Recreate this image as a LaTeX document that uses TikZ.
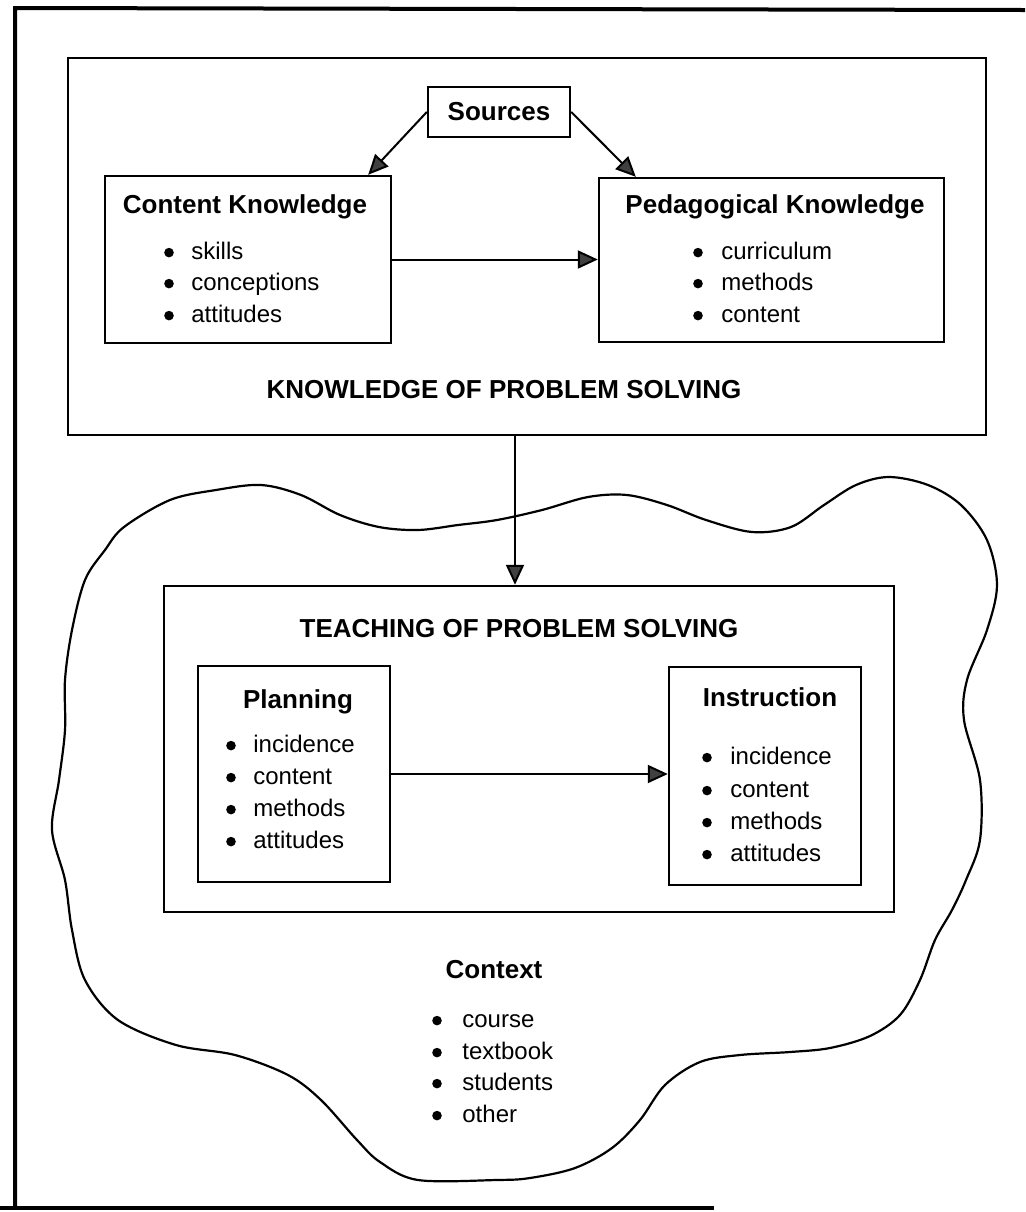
\documentclass[tikz,border=0pt]{standalone}
\usepackage{fontspec}
\setmainfont{Liberation Sans}
\usetikzlibrary{arrows.meta}
\begin{document}
\begin{tikzpicture}[x=0.5pt,y=-0.5pt,
  box/.style={draw, line width=1.2pt, inner sep=0pt},
  ttl/.style={font=\fontsize{13pt}{15pt}\selectfont\bfseries, anchor=base, inner sep=0pt},
  itm/.style={font=\fontsize{12pt}{14pt}\selectfont, anchor=base west, inner sep=0pt},
  conn/.style={line width=1pt, -{Triangle[length=10pt,width=9pt,fill=black!75]}},
  frame/.style={line width=2pt},
  cloudline/.style={line width=1.1pt},
  bul/.style={radius=2.4pt}]
\useasboundingbox (0,0) rectangle (1025,1212);
% outer frame (partial, as scanned)
\draw[frame] (15,1208) -- (15,8) -- (1025,10);
\draw[frame] (0,1208) -- (714,1208);

% upper frame
\node[box, minimum width=459pt, minimum height=188.5pt] (know) at (527,246.5) {};
\node[box, minimum width=71pt, minimum height=25pt] (src) at (499,112) {};
\node[ttl] (srct) at (499,120) {Sources};
\node[box, minimum width=143pt, minimum height=83.5pt] (ck) at (248,259.5) {};
\node[box, minimum width=172.5pt, minimum height=82pt] (pk) at (771.5,260) {};
\node[ttl] (ckt) at (245,213) {Content Knowledge};
\node[ttl] (pkt) at (775,213) {Pedagogical Knowledge};
\foreach \t/\yy [count=\i] in {skills/259, conceptions/290, attitudes/322}{
  \node[itm] (cki\i) at (191,\yy) {\t};
  \fill ([xshift=-11pt,yshift=3.2pt]cki\i.base west) circle[bul];
}
\foreach \t/\yy [count=\i] in {curriculum/259, methods/290, content/322}{
  \node[itm] (pki\i) at (721,\yy) {\t};
  \fill ([xshift=-11.5pt,yshift=3.2pt]pki\i.base west) circle[bul];
}
\node[ttl] (kps) at (504,398) {KNOWLEDGE OF PROBLEM SOLVING};

\draw[conn] (src.west) -- ([xshift=-12pt]ck.north east);
\draw[conn] (src.east) -- ([xshift=19pt]pk.north west);
\draw[conn] (ck.east) -- (ck.east -| pk.west);

% cloud
\draw[cloudline] plot[smooth cycle, tension=0.55] coordinates {
(124,527) (170,500) (216,490) (261,485) (301,495) (340,515) (379,527) (418,530)
(458,525) (497,520) (542,510) (588,497) (627,495) (667,505) (706,520) (752,532)
(791,527) (824,505) (856,485) (889,477) (928,485) (961,505) (987,540) (997,585)
(987,630) (967,680) (964,720) (980,780) (980,840) (966,880) (952,910) (935,940)
(920,980) (900,1015) (870,1036) (830,1048) (790,1052) (740,1055) (700,1062)
(665,1085) (640,1120) (612,1148) (575,1168) (530,1178) (497,1180) (418,1180)
(380,1162) (357,1140) (321,1100) (288,1075) (235,1055) (176,1045) (118,1020)
(85,980) (72,930) (65,880) (52,830) (59,780) (65,730) (65,680) (72,630) (85,580) (105,550)};

% lower frame
\node[box, fill=white, minimum width=365pt, minimum height=163pt] (teach) at (529,749) {};
\node[ttl] (teacht) at (519,637) {TEACHING OF PROBLEM SOLVING};
\node[box, minimum width=96pt, minimum height=108pt] (plan) at (294,774) {};
\node[box, minimum width=96pt, minimum height=109pt] (instr) at (765,776) {};
\node[ttl] (plant) at (298,708) {Planning};
\node[ttl] (instrt) at (770,706) {Instruction};
\foreach \t/\yy [count=\i] in {incidence/752, content/784, methods/816, attitudes/848}{
  \node[itm] (pli\i) at (253,\yy) {\t};
  \fill ([xshift=-11pt,yshift=3.2pt]pli\i.base west) circle[bul];
}
\foreach \t/\yy [count=\i] in {incidence/764, content/797, methods/829, attitudes/861}{
  \node[itm] (ini\i) at (730,\yy) {\t};
  \fill ([xshift=-11.5pt,yshift=3.2pt]ini\i.base west) circle[bul];
}
\draw[conn] (plan.east) -- (plan.east -| instr.west);

\draw[conn] ([xshift=-6pt]know.south) -- ([xshift=-6pt]know.south |- teach.north);

% context
\node[ttl] (ctx) at (494,978) {Context};
\foreach \t/\yy [count=\i] in {course/1027, textbook/1059, students/1090, other/1122}{
  \node[itm] (cxi\i) at (462,\yy) {\t};
  \fill ([xshift=-12.5pt,yshift=3.2pt]cxi\i.base west) circle[bul];
}
\end{tikzpicture}
\end{document}
